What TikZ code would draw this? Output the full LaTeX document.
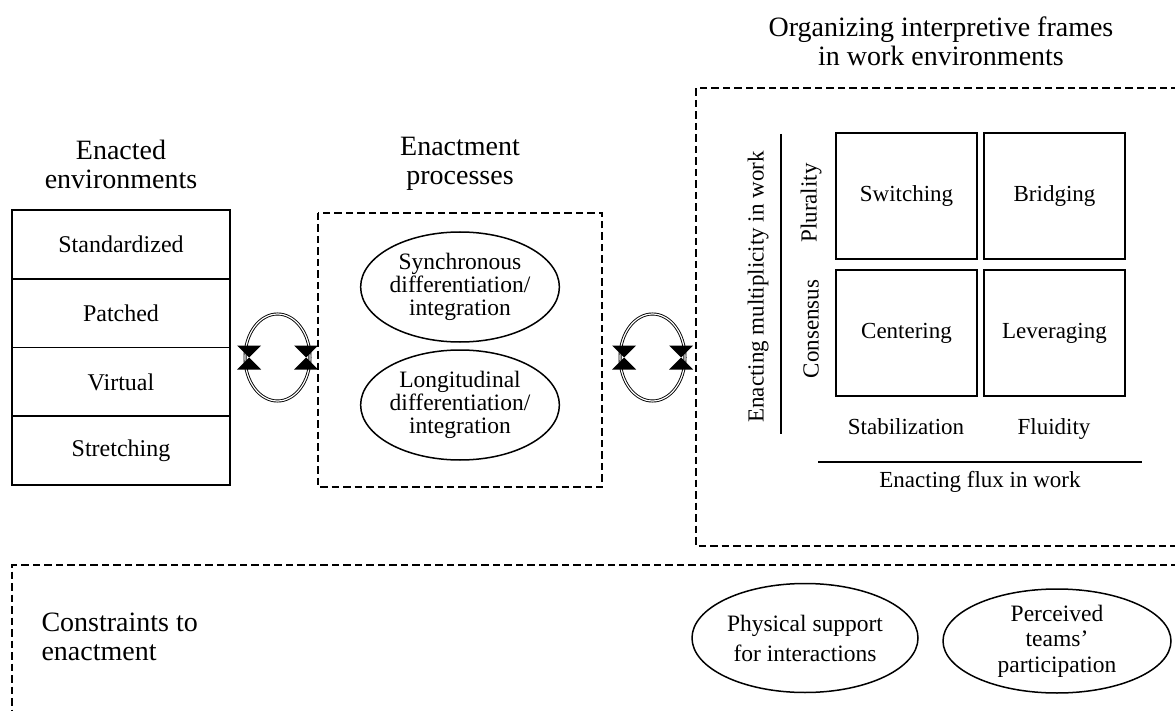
\documentclass[tikz,border=0pt]{standalone}
\usepackage{fontspec}
\setmainfont{Liberation Serif}
\usetikzlibrary{shapes.geometric,calc}
\begin{document}
\begin{tikzpicture}[x=1pt,y=-1pt,
  body/.style={font=\fontsize{23}{22}\selectfont, align=center},
  big/.style={font=\fontsize{24}{22}\selectfont, align=center},
  ttl/.style={font=\fontsize{28}{29}\selectfont, align=center},
  cell/.style={draw, line width=1.6pt, inner sep=0pt, body},
  frame/.style={draw, line width=2.4pt, dash pattern=on 7.5pt off 4pt},
  oval/.style={draw, ellipse, line width=1.5pt, inner sep=0pt, body},
  loopline/.style={draw, line width=0.9pt, double distance=1.2pt},
  tip/.style={fill=black, draw=none}
]
\useasboundingbox (0,0) rectangle (1175,711);

% enacted environments
\node[ttl] (t1) at (121,164) {Enacted\\environments};
\node[cell, big, minimum width=218pt, minimum height=68.75pt] (std) at (121,244.4) {Standardized};
\node[cell, big, minimum width=218pt, minimum height=68.75pt] (pat) at (121,313.1) {Patched};
\node[cell, big, minimum width=218pt, minimum height=68.75pt] (vir) at (121,381.9) {Virtual};
\node[cell, big, minimum width=218pt, minimum height=68.75pt] (str) at (121,450.6) {Stretching};

% enactment processes
\node[ttl] (t2) at (460,164) {Enactment\\processes};
\draw[frame] (318,213) rectangle (602,487);
\node[oval, minimum width=196pt, minimum height=110pt, font=\fontsize{23.5}{23}\selectfont] (syn) at (460,287) {Synchronous\\differentiation/\\integration};
\node[oval, minimum width=196pt, minimum height=110pt, font=\fontsize{23.5}{23}\selectfont] (lon) at (460,405) {Longitudinal\\differentiation/\\integration};

% reciprocal loops
\foreach \cx/\nm in {277.5/la, 652.5/lb}{
  \coordinate (\nm) at (\cx,357.5);
  \draw[loopline] (\nm) ellipse [x radius=32.5pt, y radius=43.5pt];
  \foreach \dx in {-28.5,28.5}{
    \fill[tip] ($(\nm)+(\dx,0)$) -- ++(-12,-12) -- ++(24,0) -- cycle;
    \fill[tip] ($(\nm)+(\dx,0)$) -- ++(-12,12) -- ++(24,0) -- cycle;
  }
}

% organizing interpretive frames
\node[ttl] (t3) at (941,41) {Organizing interpretive frames\\in work environments};
\draw[frame] (1190,88) -- (696,88) -- (696,546) -- (1190,546);
\node[cell, minimum width=141pt, minimum height=126pt] (sw) at (906.5,196) {Switching};
\node[cell, minimum width=141pt, minimum height=126pt] (br) at (1054.5,196) {Bridging};
\node[cell, minimum width=141pt, minimum height=126pt] (ce) at (906.5,333) {Centering};
\node[cell, minimum width=141pt, minimum height=126pt] (le) at (1054.5,333) {Leveraging};
\node[body, rotate=90] (plu) at (811,203) {Plurality};
\node[body, rotate=90] (con) at (811,329) {Consensus};
\node[body, rotate=90] (mul) at (758,287) {Enacting multiplicity in work};
\coordinate (va) at (781,134);
\coordinate (vb) at (781,434);
\draw[line width=1.4pt] (va) -- (vb);
\node[body, anchor=base] (stab) at (906,434) {Stabilization};
\node[body, anchor=base] (flu) at (1054,434) {Fluidity};
\coordinate (ha) at (818,462);
\coordinate (hb) at (1142,462);
\draw[line width=1.4pt] (ha) -- (hb);
\node[body] (flux) at (980,482) {Enacting flux in work};

% constraints to enactment
\draw[frame] (1190,565) -- (12,565) -- (12,730);
\node[ttl, align=left, anchor=west] (t4) at (38,637) {Constraints to\\enactment};
\node[oval, minimum width=226pt, minimum height=109pt, font=\fontsize{23.5}{30}\selectfont] (phy) at (805,638) {Physical support\\for interactions};
\node[oval, minimum width=228pt, minimum height=104pt, font=\fontsize{23.5}{25.5}\selectfont] (per) at (1057,641) {Perceived\\teams’\\participation};
\end{tikzpicture}
\end{document}
